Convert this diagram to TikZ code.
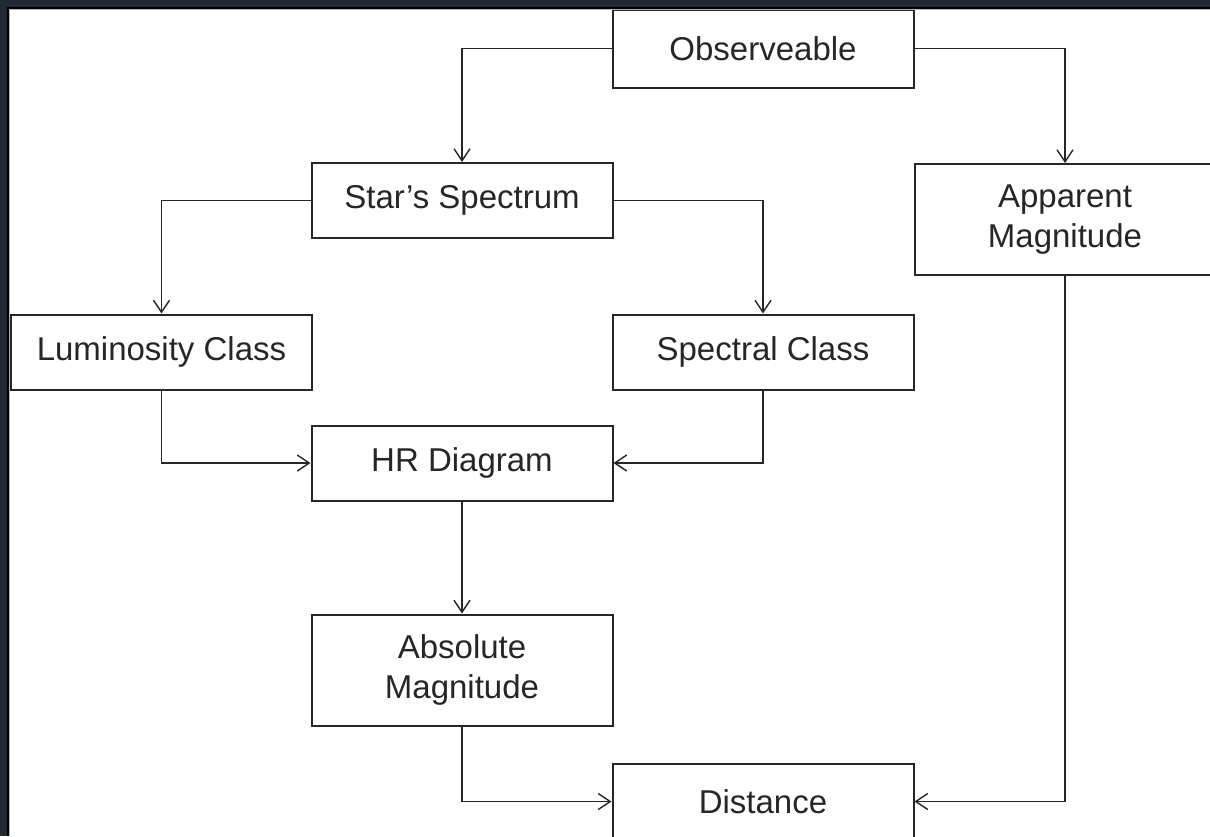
\documentclass[tikz,border=0pt]{standalone}
\usepackage{fontspec}
\setmainfont{Liberation Sans}
\usetikzlibrary{arrows.meta}

\definecolor{framebg}{RGB}{35,41,50}
\definecolor{ink}{RGB}{38,38,38}

\tikzset{
  box/.style={draw=ink, line width=1pt, fill=white, minimum width=150.5pt,
    minimum height=37.5pt, inner sep=0pt, align=center, text=ink,
    font=\fontsize{16.5}{20}\selectfont},
  tallbox/.style={box, minimum height=55.5pt},
  arr/.style={draw=ink, line width=0.7pt, -{Straight Barb[length=6pt,width=8pt]}}
}

\begin{document}
\begin{tikzpicture}[x=0.5pt, y=-0.5pt]
  \clip (0,0) rectangle (1210,836);
  \fill[framebg] (0,0) rectangle (1210,836);
  \fill[white] (10,10) rectangle (1210,836);

  \node[box, minimum height=39pt] (obs) at (763, 48.5) {Observeable};
  \node[box] (spec) at (462, 200.5) {Star’s Spectrum};
  \node[tallbox] (app) at (1065, 219.5) {Apparent\\Magnitude};
  \node[box] (lum) at (161.5, 352) {Luminosity Class};
  \node[box] (scl) at (763, 352) {Spectral Class};
  \node[box] (hrd) at (462, 463) {HR Diagram};
  \node[tallbox] (abs) at (462, 670) {Absolute\\Magnitude};
  \node[box] (dist) at (763, 801.5) {Distance};

  % window edge over the top of the chart
  \fill[framebg] (0,0) rectangle (1210,7);
  \draw[black, line width=1pt] (8,836) -- (8,8) -- (1210,8);
  \draw[gray!60, line width=0.5pt] (9.8,836) -- (9.8,9.8) -- (1210,9.8);

  \draw[arr] (obs.west) -| (spec.north);
  \draw[arr] (obs.east) -| (app.north);
  \draw[arr] (spec.west) -| (lum.north);
  \draw[arr] (spec.east) -| (scl.north);
  \draw[arr] (lum.south) |- (hrd.west);
  \draw[arr] (scl.south) |- (hrd.east);
  \draw[arr] (hrd.south) -- (abs.north);
  \draw[arr] (abs.south) |- (dist.west);
  \draw[arr] (app.south) |- (dist.east);
\end{tikzpicture}
\end{document}
